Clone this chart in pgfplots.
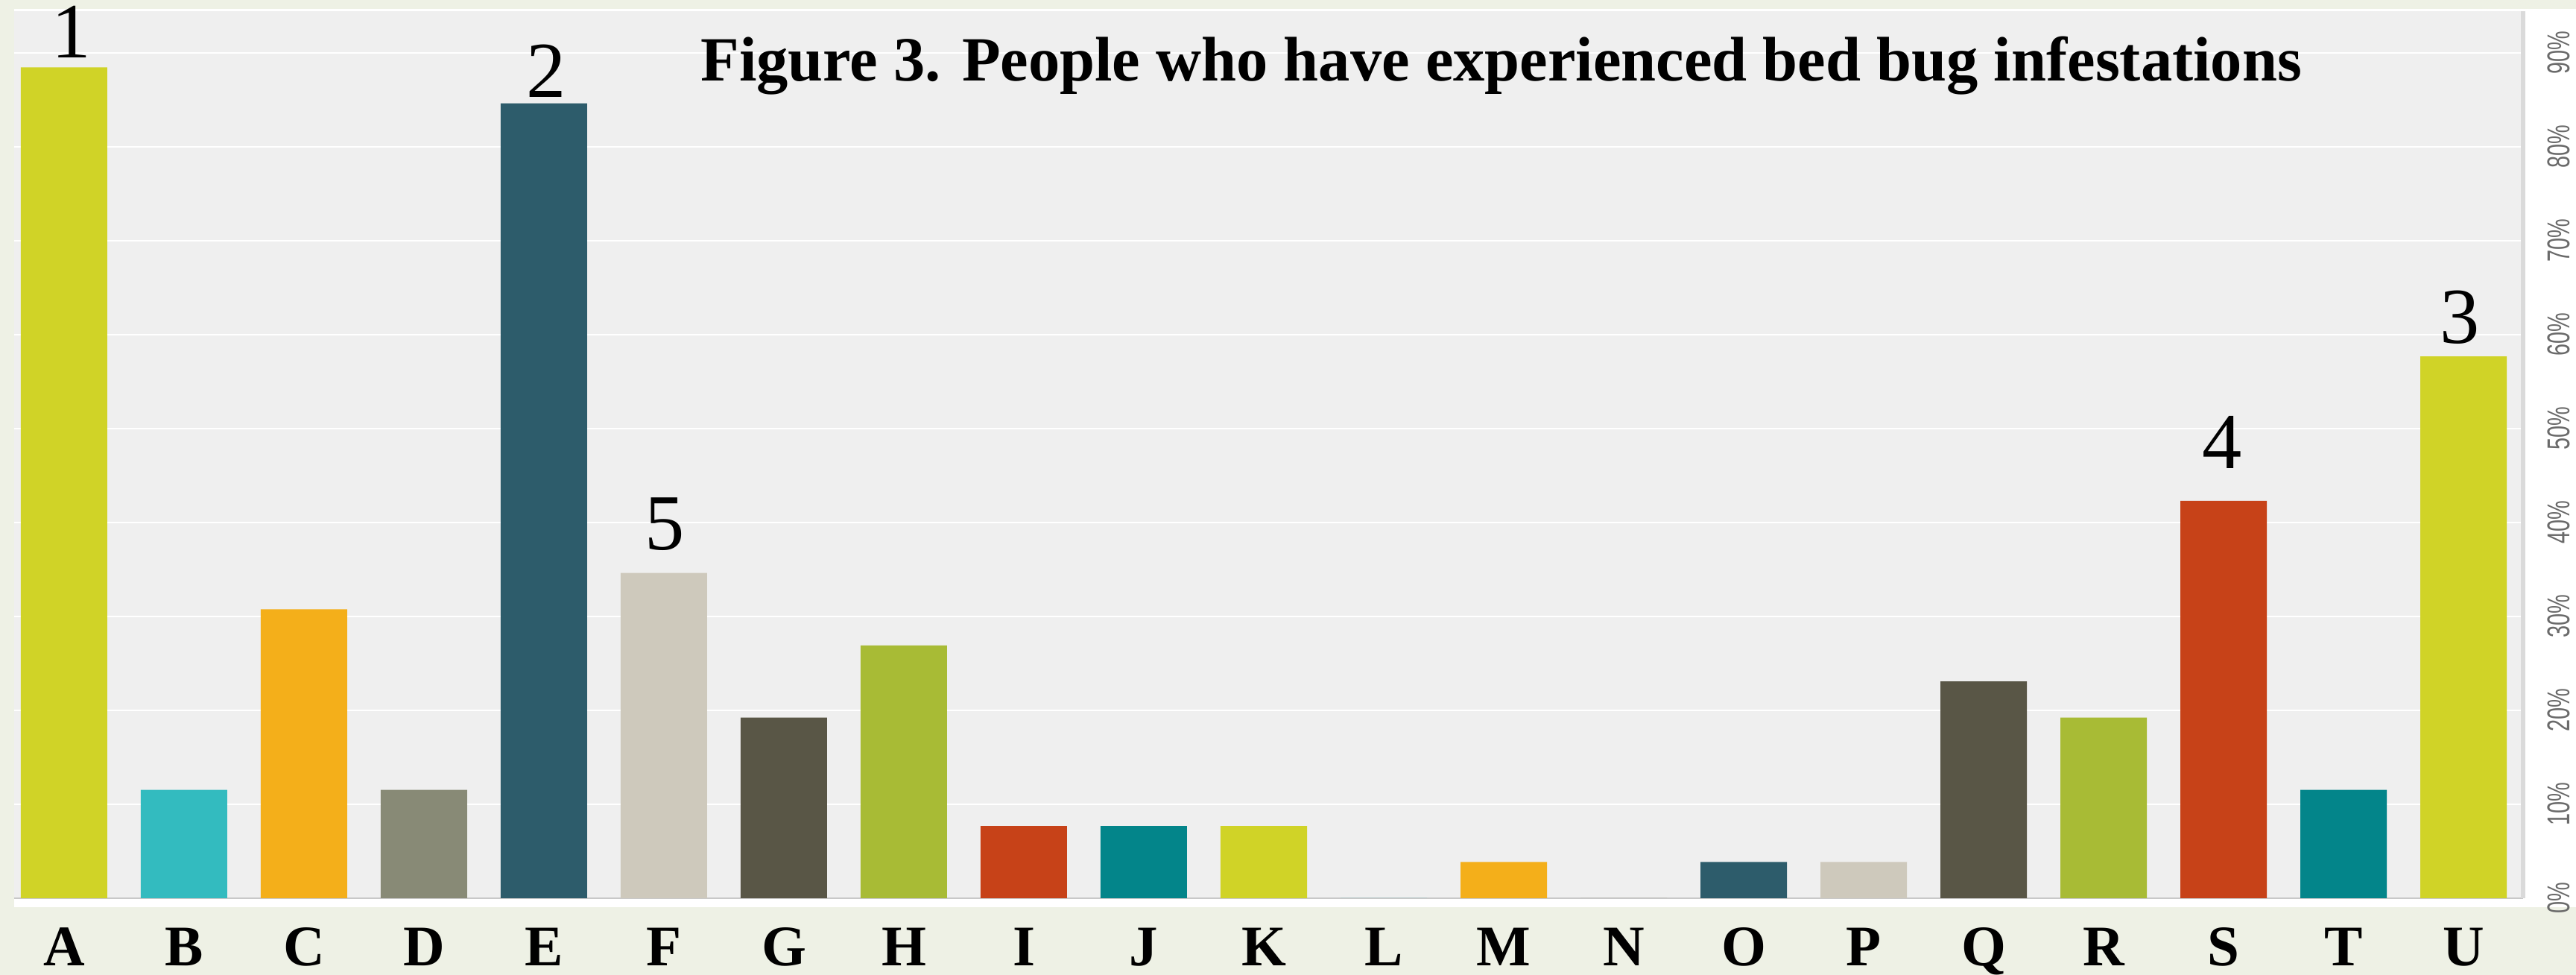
\documentclass[border=0pt]{standalone}
\usepackage{graphicx}
\usepackage{pgfplots}
\pgfplotsset{compat=1.18}
\usepackage{fontspec}
\setmainfont{Liberation Serif}
\newfontfamily\tickfont{Liberation Sans}
\newcommand\tl[1]{\scalebox{0.68}[1]{#1\%}}
\definecolor{bggreen}{HTML}{EEF1E5}
\definecolor{plotbg}{HTML}{EFEFEF}
\definecolor{axgray}{HTML}{C8C8C8}
\definecolor{rgray}{HTML}{DADADA}
\definecolor{tickgray}{HTML}{6A6A6A}
\definecolor{cA}{HTML}{D0D327}
\definecolor{cB}{HTML}{33BBBF}
\definecolor{cC}{HTML}{F4AF1A}
\definecolor{cD}{HTML}{888A76}
\definecolor{cE}{HTML}{2D5C6B}
\definecolor{cF}{HTML}{CEC9BC}
\definecolor{cG}{HTML}{595646}
\definecolor{cH}{HTML}{A8BB35}
\definecolor{cI}{HTML}{C74218}
\definecolor{cJ}{HTML}{03858A}
\begin{document}
\begin{tikzpicture}
\fill[bggreen] (-3.8pt,-20.6pt) rectangle (687.6pt,241pt);
\fill[white] (0pt,-2.4pt) rectangle (687.6pt,238.6pt);
\begin{axis}[
  at={(0pt,0pt)}, anchor=south west,
  scale only axis, width=673.4pt, height=238pt,
  xmin=-0.4161, xmax=20.497, ymin=0, ymax=94.44,
  ybar, bar width=23.2pt,
  axis background/.style={fill=plotbg},
  axis x line*=bottom, axis y line*=right,
  x axis line style={draw=axgray, line width=0.4pt, -},
  y axis line style={draw=rgray, line width=1.2pt, -},
  xtick={0,1,...,20},
  xticklabels={A,B,C,D,E,F,G,H,I,J,K,L,M,N,O,P,Q,R,S,T,U},
  ytick={0,10,...,90},
  yticklabels={\tl{0},\tl{10},\tl{20},\tl{30},\tl{40},\tl{50},\tl{60},\tl{70},\tl{80},\tl{90}},
  major tick length=0pt,
  ymajorgrids, grid style={white, line width=0.5pt},
  xticklabel style={font=\bfseries\fontsize{15.4}{16}\selectfont, anchor=base, yshift=-18.2pt},
  yticklabel style={font=\tickfont\fontsize{8.5}{9}\selectfont, text=tickgray, xshift=9.6pt, rotate=90, anchor=center},
  clip=false,
]
\addplot[fill=cA, draw=none, bar shift=0pt] coordinates {(0,88.46) (10,7.69) (20,57.69)};
\addplot[fill=cB, draw=none, bar shift=0pt] coordinates {(1,11.54) (11,0)};
\addplot[fill=cC, draw=none, bar shift=0pt] coordinates {(2,30.77) (12,3.85)};
\addplot[fill=cD, draw=none, bar shift=0pt] coordinates {(3,11.54) (13,0)};
\addplot[fill=cE, draw=none, bar shift=0pt] coordinates {(4,84.62) (14,3.85)};
\addplot[fill=cF, draw=none, bar shift=0pt] coordinates {(5,34.62) (15,3.85)};
\addplot[fill=cG, draw=none, bar shift=0pt] coordinates {(6,19.23) (16,23.08)};
\addplot[fill=cH, draw=none, bar shift=0pt] coordinates {(7,26.92) (17,19.23)};
\addplot[fill=cI, draw=none, bar shift=0pt] coordinates {(8,7.69) (18,42.31)};
\addplot[fill=cJ, draw=none, bar shift=0pt] coordinates {(9,7.69) (19,11.54)};
\node[font=\bfseries\fontsize{16.9}{18}\selectfont, anchor=base] at (axis cs:11.98,86.98) {Figure 3. People who have experienced bed bug infestations};
\node[font=\fontsize{21}{22}\selectfont, anchor=base] at (axis cs:0.06,89.45) {1};
\node[font=\fontsize{21.3}{22}\selectfont, anchor=base] at (axis cs:4.02,85.24) {2};
\node[font=\fontsize{21.3}{22}\selectfont, anchor=base] at (axis cs:19.97,59.05) {3};
\node[font=\fontsize{21.3}{22}\selectfont, anchor=base] at (axis cs:17.99,45.75) {4};
\node[font=\fontsize{21.3}{22}\selectfont, anchor=base] at (axis cs:5.01,37.06) {5};
\end{axis}
\pgfresetboundingbox
\path[use as bounding box] (-3.8pt,-20.6pt) rectangle (687.6pt,241pt);
\end{tikzpicture}
\end{document}
